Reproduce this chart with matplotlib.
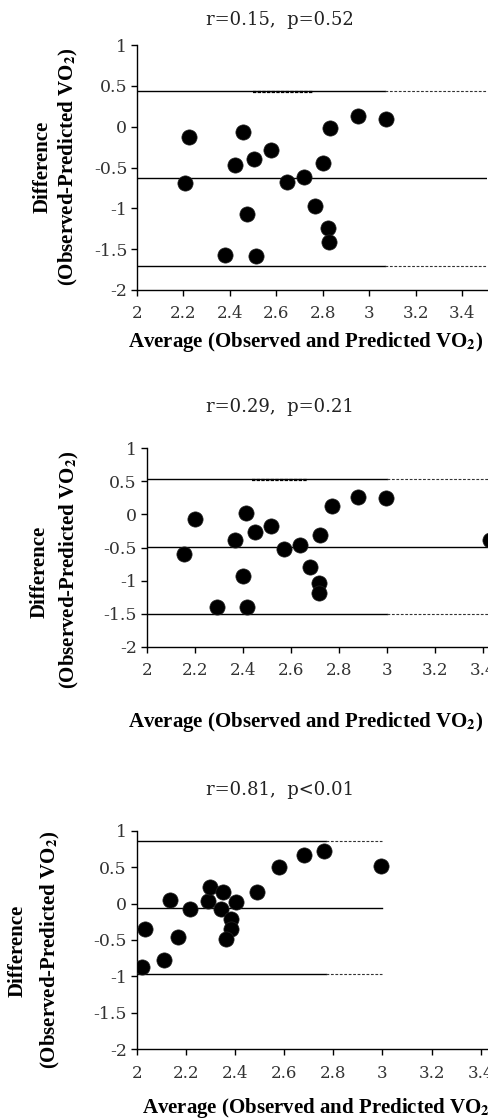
import matplotlib
matplotlib.use("Agg")
import matplotlib.pyplot as plt

plt.rcParams['mathtext.fontset'] = 'stix'

# ---------------- data ----------------
titles = ["r=0.15,  p=0.52", "r=0.29,  p=0.21", "r=0.81,  p<0.01"]

x1 = [2.205, 2.225, 2.378, 2.421, 2.457, 2.474, 2.504, 2.514, 2.576, 2.646,
      2.718, 2.768, 2.800, 2.823, 2.827, 2.833, 2.951, 3.071]
y1 = [-0.686, -0.122, -1.571, -0.469, -0.061, -1.069, -0.396, -1.584, -0.282, -0.678,
      -0.612, -0.971, -0.449, -1.241, -1.412, -0.012, 0.131, 0.098]

x2 = [2.157, 2.201, 2.292, 2.367, 2.403, 2.413, 2.417, 2.450, 2.518, 2.572,
      2.640, 2.679, 2.719, 2.719, 2.722, 2.772, 2.882, 2.996, 3.43]
y2 = [-0.599, -0.074, -1.400, -0.387, -0.926, 0.017, -1.400, -0.271, -0.170, -0.518,
      -0.462, -0.790, -1.042, -1.194, -0.306, 0.123, 0.269, 0.254, -0.387]

x3 = [2.020, 2.034, 2.113, 2.136, 2.167, 2.217, 2.292, 2.300, 2.353, 2.345,
      2.384, 2.384, 2.365, 2.404, 2.488, 2.578, 2.683, 2.761, 2.995]
y3 = [-0.866, -0.353, -0.774, 0.049, -0.454, -0.070, 0.039, 0.228, 0.163, -0.070,
      -0.212, -0.350, -0.482, 0.018, 0.157, 0.497, 0.666, 0.721, 0.515]

# limits of agreement: upper, mean, lower
loa = [(0.44, -0.63, -1.70), (0.53, -0.49, -1.51), (0.86, -0.06, -0.96)]
solid_end = [3.07, 3.00, 2.77]      # solid part of upper/lower lines ends here
dash_end = [3.508, 3.426, 3.00]     # dashed continuation ends here
mean_end = [3.508, 3.426, 3.00]
dotted_seg = [(2.50, 2.76), (2.44, 2.67), None]  # short dotted overlay on upper line

xlims = [(2, 3.508), (2, 3.426), (2, 3.434)]
yticks = [1, 0.5, 0, -0.5, -1, -1.5, -2]
ytick_labels = ["1", "0.5", "0", "-0.5", "-1", "-1.5", "-2"]
xticks = [2, 2.2, 2.4, 2.6, 2.8, 3, 3.2, 3.4]
xtick_labels = ["2", "2.2", "2.4", "2.6", "2.8", "3", "3.2", "3.4"]

xs = [x1, x2, x3]
ys = [y1, y2, y3]

# ---------------- layout (pixels) ----------------
W, H = 489, 1119
fig = plt.figure(figsize=(W / 100, H / 100), dpi=100)

# left, right, top, bottom in px
boxes = [(137, 487, 45, 290), (146.7, 489, 448.3, 646.7), (136.7, 489, 830.7, 1049.3)]
title_y = [20, 407, 790]
title_x = [280, 280, 280]
ylab1 = [(43, 167), (40, 572), (18, 951)]
ylab2 = [(68, 167), (69, 570), (50, 950)]
xlab = [(306, 342, 'center'), (306, 722, 'center'), (142, 1108, 'left')]

serif = ['DejaVu Serif']
bold_serif = ['Liberation Serif', 'DejaVu Serif']

for i in range(3):
    l, r, t, b = boxes[i]
    ax = fig.add_axes([l / W, 1 - b / H, (r - l) / W, (b - t) / H])
    ax.set_xlim(*xlims[i])
    ax.set_ylim(-2, 1)
    for s in ['top', 'right']:
        ax.spines[s].set_visible(False)
    for s in ['left', 'bottom']:
        ax.spines[s].set_linewidth(1.0)
        ax.spines[s].set_color('black')

    up, mn, lo = loa[i]
    x0 = xlims[i][0]
    ax.plot([x0, solid_end[i]], [up, up], color='black', lw=1.0, zorder=2)
    ax.plot([solid_end[i], dash_end[i]], [up, up], color='#333333', lw=0.8,
            ls=(0, (2.5, 1.5)), zorder=2)
    ax.plot([x0, solid_end[i]], [lo, lo], color='black', lw=1.0, zorder=2)
    ax.plot([solid_end[i], dash_end[i]], [lo, lo], color='#333333', lw=0.8,
            ls=(0, (2.5, 1.5)), zorder=2)
    ax.plot([x0, mean_end[i]], [mn, mn], color='black', lw=1.0, zorder=2)
    if dotted_seg[i] is not None:
        a, bb = dotted_seg[i]
        ax.plot([a, bb], [up - 0.01, up - 0.01], color='black', lw=1.6,
                ls=(0, (1.5, 0.6)), zorder=2)

    ax.scatter(xs[i], ys[i], s=120, color='black', edgecolors='#222222',
               linewidths=0.5, zorder=3)

    ax.set_yticks(yticks)
    ax.set_yticklabels(ytick_labels, family=serif, fontsize=12.5, color='#333333')
    ax.set_xticks(xticks)
    ax.set_xticklabels(xtick_labels, family=serif, fontsize=12, color='#333333')
    ax.tick_params(axis='both', direction='out', length=4, width=1.0, color='black')
    ax.tick_params(axis='y', pad=3)
    ax.tick_params(axis='x', pad=7)

    fig.text(title_x[i] / W, 1 - title_y[i] / H, titles[i], family=serif,
             fontsize=13, ha='center', va='center', color='#222222')

    fig.text(ylab1[i][0] / W, 1 - ylab1[i][1] / H, "Difference", family=bold_serif,
             fontweight='bold', fontsize=15, rotation=90, ha='center', va='center')
    fig.text(ylab2[i][0] / W, 1 - ylab2[i][1] / H,
             r"(Observed-Predicted VO$_{\mathbf{2}}$)", family=bold_serif,
             fontweight='bold', fontsize=15, rotation=90, ha='center', va='center')
    fig.text(xlab[i][0] / W, 1 - xlab[i][1] / H,
             r"Average (Observed and Predicted VO$_{\mathbf{2}}$)", family=bold_serif,
             fontweight='bold', fontsize=15, ha=xlab[i][2], va='center')

fig.savefig("out.png", dpi=100)
